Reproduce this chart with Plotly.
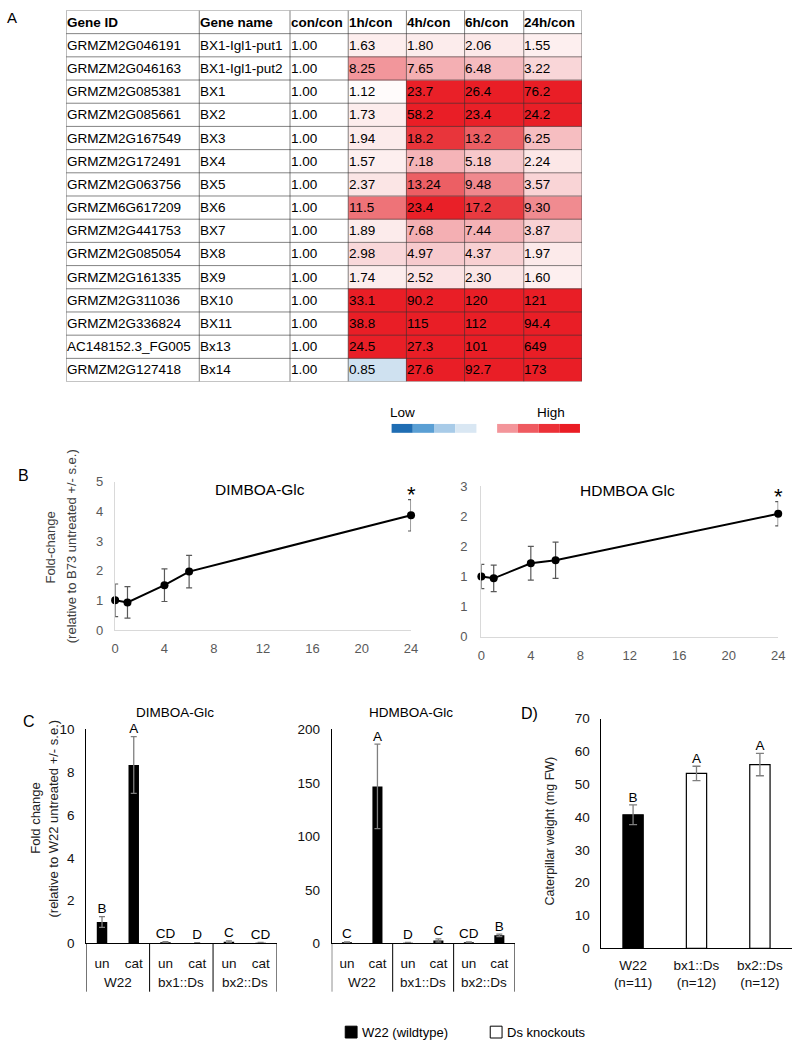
import math
import plotly.graph_objects as go

W, H = 800, 1047
def px(x): return x / W
def py(y): return 1 - y / H

FONT = "Arial, 'Liberation Sans', sans-serif"

# ---------------- Panel A data ----------------
headers = ["Gene ID", "Gene name", "con/con", "1h/con", "4h/con", "6h/con", "24h/con"]
gene_ids = ["GRMZM2G046191", "GRMZM2G046163", "GRMZM2G085381", "GRMZM2G085661", "GRMZM2G167549",
            "GRMZM2G172491", "GRMZM2G063756", "GRMZM6G617209", "GRMZM2G441753", "GRMZM2G085054",
            "GRMZM2G161335", "GRMZM2G311036", "GRMZM2G336824", "AC148152.3_FG005", "GRMZM2G127418"]
gene_names = ["BX1-Igl1-put1", "BX1-Igl1-put2", "BX1", "BX2", "BX3", "BX4", "BX5", "BX6", "BX7",
              "BX8", "BX9", "BX10", "BX11", "Bx13", "Bx14"]
con_con = ["1.00", "1.00", "1.00", "1.00", "1.00", "1.00", "1.00", "1.00", "1.00", "1.00",
           "1.00", "1.00", "1.00", "1.00", "1.00"]
h1 = ["1.63", "8.25", "1.12", "1.73", "1.94", "1.57", "2.37", "11.5", "1.89", "2.98", "1.74",
      "33.1", "38.8", "24.5", "0.85"]
h4 = ["1.80", "7.65", "23.7", "58.2", "18.2", "7.18", "13.24", "23.4", "7.68", "4.97", "2.52",
      "90.2", "115", "27.3", "27.6"]
h6 = ["2.06", "6.48", "26.4", "23.4", "13.2", "5.18", "9.48", "17.2", "7.44", "4.37", "2.30",
      "120", "112", "101", "92.7"]
h24 = ["1.55", "3.22", "76.2", "24.2", "6.25", "2.24", "3.57", "9.30", "3.87", "1.97", "1.60",
       "121", "94.4", "649", "173"]
legend_low_colors = ["#1f6db3", "#5a9fd4", "#a8cbe8", "#d9e7f3"]
legend_high_colors = ["#f3959a", "#ef5a60", "#ec3037", "#ea1c24"]

# ---------------- Panel B data ----------------
hours = [0, 1, 4, 6, 24]
dimboa_fc = [1.0, 0.93, 1.51, 1.97, 3.87]
dimboa_se = [0.55, 0.53, 0.55, 0.55, 0.53]
hdmboa_fc = [1.0, 0.97, 1.22, 1.27, 2.04]
hdmboa_se = [0.2, 0.22, 0.28, 0.3, 0.2]
b_sig = ["", "", "", "", "*"]
hours_ticks = [0, 4, 8, 12, 16, 20, 24]
hdm_tickvals = [0, 0.5, 1, 1.5, 2, 2.5]
hdm_ticktext = ["0", "1", "1", "2", "2", "3"]

# ---------------- Panel C data ----------------
genotypes = ["W22", "W22", "bx1::Ds", "bx1::Ds", "bx2::Ds", "bx2::Ds"]
treatments = ["un", "cat", "un", "cat", "un", "cat"]
c_dimboa = [1.0, 8.34, 0.05, 0.02, 0.08, 0.03]
c_dimboa_se = [0.25, 1.33, 0.03, 0.01, 0.04, 0.02]
c_dimboa_letters = ["B", "A", "CD", "D", "C", "CD"]
c_hdmboa = [1.0, 146.8, 0.6, 2.8, 1.0, 7.5]
c_hdmboa_se = [0.5, 39.5, 0.3, 1.5, 0.5, 1.2]
c_hdmboa_letters = ["C", "A", "D", "C", "CD", "B"]

# ---------------- Panel D data ----------------
d_lines = ["W22<br>(n=11)", "bx1::Ds<br>(n=12)", "bx2::Ds<br>(n=12)"]
d_weight = [40.7, 53.3, 56.0]
d_se = [3.0, 2.2, 3.4]
d_letters = ["B", "A", "A"]
legend_names = ["W22 (wildtype)", "Ds knockouts"]

fig = go.Figure()
annotations = []
shapes = []

# ======== Panel A: heat table ========
col_edges = [0, 135, 227, 286, 345, 404, 464, 523]
n_rows = len(gene_ids) + 1
row_edges = list(range(n_rows + 1))
columns = [gene_ids, gene_names, con_con, h1, h4, h6, h24]

z = [[0.0] * 7]
for r in range(len(gene_ids)):
    z.append([0.0, 0.0, 0.0] + [math.log10(float(c[r])) for c in (h1, h4, h6, h24)])

cs_stops = [(0.5, "#2a74b8"), (0.85, "#cfe1f0"), (1.0, "#ffffff"), (1.15, "#fffafa"),
            (1.5, "#fdf0f0"), (2.0, "#fceaea"), (2.6, "#fbe2e3"), (3.0, "#f9d8da"),
            (4.5, "#f8cfd1"), (6.0, "#f6c1c4"), (7.7, "#f4afb3"), (8.2, "#f2979c"),
            (9.4, "#f08a8f"), (11.5, "#ee7378"), (13.2, "#ec5f64"), (17.0, "#e93b41"),
            (18.5, "#e8333a"), (22, "#e9222a"), (25, "#e91e26")]
zmin, zmax = math.log10(cs_stops[0][0]), math.log10(cs_stops[-1][0])
colorscale = []
for v, c in cs_stops:
    t = (math.log10(v) - zmin) / (zmax - zmin)
    colorscale.append([min(1.0, max(0.0, t)), c])
colorscale[0][0] = 0.0
colorscale[-1][0] = 1.0

fig.add_trace(go.Heatmap(z=z, x=col_edges, y=row_edges, colorscale=colorscale,
                         zmin=zmin, zmax=zmax, showscale=False, hoverinfo="skip",
                         xaxis="x", yaxis="y"))

for ci, head in enumerate(headers):
    annotations.append(dict(xref="x", yref="y", x=col_edges[ci] + 0.5, y=0.5, text="<b>%s</b>" % head,
                            xanchor="left", yanchor="middle", showarrow=False, xshift=-2,
                            font=dict(family=FONT, size=13.5, color="black")))
for r in range(len(gene_ids)):
    for ci, col in enumerate(columns):
        annotations.append(dict(xref="x", yref="y", x=col_edges[ci] + 0.5, y=r + 1.5, text=col[r],
                                xanchor="left", yanchor="middle", showarrow=False, xshift=-2,
                                font=dict(family=FONT, size=13.5, color="black")))
grid_col = "rgba(50,50,50,0.6)"
for e in row_edges:
    shapes.append(dict(type="line", xref="x", yref="y", x0=col_edges[0], x1=col_edges[-1], y0=e, y1=e,
                       line=dict(color=grid_col, width=1)))
for e in col_edges:
    shapes.append(dict(type="line", xref="x", yref="y", x0=e, x1=e, y0=row_edges[0], y1=row_edges[-1],
                       line=dict(color=grid_col, width=1)))

# Low / High key
for i, c in enumerate(legend_low_colors):
    shapes.append(dict(type="rect", xref="paper", yref="paper", x0=px(393 + 21.5 * i), x1=px(393 + 21.5 * (i + 1)),
                       y0=py(432), y1=py(423), fillcolor=c, line=dict(width=0)))
for i, c in enumerate(legend_high_colors):
    shapes.append(dict(type="rect", xref="paper", yref="paper", x0=px(500 + 21 * i), x1=px(500 + 21 * (i + 1)),
                       y0=py(432), y1=py(423), fillcolor=c, line=dict(width=0)))
annotations.append(dict(xref="paper", yref="paper", x=px(404), y=py(411), text="Low", showarrow=False,
                        xanchor="center", yanchor="middle", font=dict(family=FONT, size=13.5, color="black")))
annotations.append(dict(xref="paper", yref="paper", x=px(555), y=py(411), text="High", showarrow=False,
                        xanchor="center", yanchor="middle", font=dict(family=FONT, size=13.5, color="black")))

# ======== Panel B ========
for xa, ya, vals, errs in (("x2", "y2", dimboa_fc, dimboa_se), ("x3", "y3", hdmboa_fc, hdmboa_se)):
    fig.add_trace(go.Scatter(x=hours, y=vals, mode="lines+markers", xaxis=xa, yaxis=ya,
                             line=dict(color="black", width=2), marker=dict(color="black", size=8),
                             error_y=dict(type="data", array=errs, color="#595959", thickness=1.2, width=3),
                             cliponaxis=False, showlegend=False, hoverinfo="skip"))
    for hx, v, e, s in zip(hours, vals, errs, b_sig):
        if s:
            annotations.append(dict(xref=xa, yref=ya, x=hx, y=v + e, text=s, showarrow=False,
                                    xanchor="center", yanchor="middle", yshift=5,
                                    font=dict(family=FONT, size=22, color="black")))

# ======== Panel C ========
c_keys = [g + " " + t for g, t in zip(genotypes, treatments)]
group_names = []
for g in genotypes:
    if g not in group_names:
        group_names.append(g)
for xa, ya, vals, errs, lets in (("x4", "y4", c_dimboa, c_dimboa_se, c_dimboa_letters),
                                 ("x5", "y5", c_hdmboa, c_hdmboa_se, c_hdmboa_letters)):
    fig.add_trace(go.Bar(x=c_keys, y=vals, xaxis=xa, yaxis=ya, width=0.33,
                         marker=dict(color="black", line=dict(width=0)),
                         error_y=dict(type="data", array=errs, color="#7f7f7f", thickness=1.3, width=3),
                         showlegend=False, hoverinfo="skip"))
    fig.add_trace(go.Scatter(x=c_keys, y=[v + e for v, e in zip(vals, errs)], mode="text",
                             text=lets, textposition="top center", xaxis=xa, yaxis=ya, cliponaxis=False,
                             textfont=dict(family=FONT, size=13.5, color="black"),
                             showlegend=False, hoverinfo="skip"))
    bounds = [-0.5]
    for g in group_names:
        idx = [i for i, gg in enumerate(genotypes) if gg == g]
        annotations.append(dict(xref=xa, yref="paper", x=sum(idx) / len(idx), y=py(990), text=g,
                                showarrow=False, xanchor="center", yanchor="middle",
                                font=dict(family=FONT, size=13.5, color="#111111")))
        bounds.append(max(idx) + 0.5)
    for b in bounds:
        shapes.append(dict(type="line", xref=xa, yref="paper", x0=b, x1=b, y0=py(950), y1=py(999),
                           line=dict(color="black", width=1)))

# ======== Panel D ========
fig.add_trace(go.Bar(x=d_lines[:1], y=d_weight[:1], xaxis="x6", yaxis="y6", width=0.32,
                     name=legend_names[0], marker=dict(color="black", line=dict(color="black", width=1.2)),
                     error_y=dict(type="data", array=d_se[:1], color="#7f7f7f", thickness=1.3, width=4),
                     showlegend=False, hoverinfo="skip"))
fig.add_trace(go.Bar(x=d_lines[1:], y=d_weight[1:], xaxis="x6", yaxis="y6", width=0.32,
                     name=legend_names[1], marker=dict(color="white", line=dict(color="black", width=1.2)),
                     error_y=dict(type="data", array=d_se[1:], color="#7f7f7f", thickness=1.3, width=4),
                     showlegend=False, hoverinfo="skip"))
fig.add_trace(go.Scatter(x=d_lines, y=[v + e for v, e in zip(d_weight, d_se)], mode="text", text=d_letters,
                         textposition="top center", xaxis="x6", yaxis="y6", cliponaxis=False,
                         textfont=dict(family=FONT, size=13.5, color="black"),
                         showlegend=False, hoverinfo="skip"))

# bottom key
key_fills = ["black", "white"]
key_x = [346, 493]
for name, fill, kx in zip(legend_names, key_fills, key_x):
    shapes.append(dict(type="rect", xref="paper", yref="paper", x0=px(kx), x1=px(kx + 12),
                       y0=py(1046), y1=py(1034), fillcolor=fill, line=dict(color="black", width=1)))
    annotations.append(dict(xref="paper", yref="paper", x=px(kx + 15), y=py(1040), text=name,
                            showarrow=False, xanchor="left", yanchor="middle",
                            font=dict(family=FONT, size=13, color="black")))

# ======== Labels ========
def add_text(x, y, text, size=13, color="black", angle=0):
    annotations.append(dict(xref="paper", yref="paper", x=px(x), y=py(y), text=text, showarrow=False,
                            xanchor="center", yanchor="middle", textangle=angle,
                            font=dict(family=FONT, size=size, color=color)))

add_text(8, 11, "A", 15)
add_text(20, 475, "B", 16)
add_text(25, 725, "C", 16)
add_text(533, 717, "D)", 16)
add_text(260, 490, "DIMBOA-Glc", 15.5)
add_text(632, 491, "HDMBOA Glc", 15.5)
add_text(173, 716, "DIMBOA-Glc", 13.5)
add_text(413, 716, "HDMBOA-Glc", 13.5)
add_text(47, 548, "Fold-change", 13, "#404040", -90)
add_text(68, 547, "(relative to B73 untreated +/- s.e.)", 13, "#404040", -90)
add_text(32, 823, "Fold change", 13, "#222222", -90)
add_text(50, 823, "(relative to W22 untreated +/- s.e.)", 13, "#222222", -90)
add_text(554, 836, "Caterpillar weight (mg FW)", 12.5, "#222222", -90)

# ======== Axes ========
grey_axis = dict(showline=True, linecolor="#d9d9d9", linewidth=1.3, showgrid=False, zeroline=False,
                 ticks="", tickfont=dict(family=FONT, size=13, color="#595959"), fixedrange=True)
black_axis = dict(showline=True, linecolor="black", linewidth=1, showgrid=False, zeroline=False,
                  ticks="", tickfont=dict(family=FONT, size=13.5, color="#111111"), fixedrange=True)

layout = dict(
    width=W, height=H, autosize=False, margin=dict(l=0, r=0, t=0, b=0),
    paper_bgcolor="white", plot_bgcolor="white", barmode="overlay",
    font=dict(family=FONT, color="black"), showlegend=False, hovermode=False,
    xaxis=dict(domain=[px(63), px(586)], range=[0, 523], visible=False, fixedrange=True, anchor="y"),
    yaxis=dict(domain=[py(380), py(3.5)], range=[n_rows, 0], visible=False, fixedrange=True, anchor="x"),
    xaxis2=dict(grey_axis, domain=[px(112.7), px(412.7)], range=[0, 24], tickvals=hours_ticks,
                anchor="y2", ticklabelstandoff=6),
    yaxis2=dict(grey_axis, domain=[py(632), py(481.7)], range=[0, 5], dtick=1, anchor="x2",
                ticklabelstandoff=8),
    xaxis3=dict(grey_axis, domain=[px(484), px(785)], range=[0, 24], tickvals=hours_ticks,
                anchor="y3", ticklabelstandoff=6),
    yaxis3=dict(grey_axis, domain=[py(639), py(486)], range=[0, 2.5], tickvals=hdm_tickvals,
                ticktext=hdm_ticktext, anchor="x3", ticklabelstandoff=10),
    xaxis4=dict(black_axis, type="category", domain=[px(83.3), px(276.3)], anchor="y4",
                range=[-0.5, len(c_keys) - 0.5], tickvals=c_keys, ticktext=treatments,
                ticklabelstandoff=7),
    yaxis4=dict(black_axis, domain=[py(950), py(733)], range=[0, 10], dtick=2, anchor="x4",
                ticklabelstandoff=8),
    xaxis5=dict(black_axis, type="category", domain=[px(332.3), px(517.7)], anchor="y5",
                range=[-0.5, len(c_keys) - 0.5], tickvals=c_keys, ticktext=treatments,
                ticklabelstandoff=7),
    yaxis5=dict(black_axis, domain=[py(950), py(733)], range=[0, 200], dtick=50, anchor="x5",
                ticklabelstandoff=8),
    xaxis6=dict(black_axis, type="category", domain=[px(605.7), px(798.6)], anchor="y6",
                ticklabelstandoff=4),
    yaxis6=dict(black_axis, domain=[py(955), py(722)], range=[0, 70], dtick=10, anchor="x6",
                ticklabelstandoff=8),
    annotations=annotations,
    shapes=shapes,
)
fig.update_layout(**layout)
fig.write_html("out.html", config={"displayModeBar": False, "staticPlot": True},
               post_script="document.body.style.margin='0px';")
